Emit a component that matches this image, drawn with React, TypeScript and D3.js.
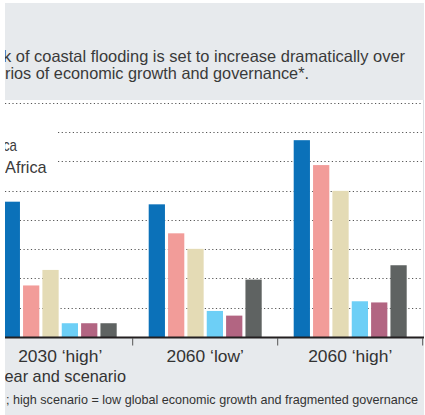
import React from "react";
import * as d3 from "d3";

const categories = ["2030 ‘high’", "2060 ‘low’", "2060 ‘high’"];
const seriesNames = ["Series A", "Series B", "Series C", "Series D", "Series E", "Series F"];
const seriesColors = ["#0b71b9", "#f29c99", "#e4dbb5", "#6dcff6", "#b26582", "#5f6362"];
const values2030High = [46.2, 17.6, 22.9, 4.7, 4.7, 4.7];
const values2060Low = [45.3, 35.4, 30.1, 8.9, 7.3, 19.6];
const values2060High = [67.2, 58.7, 49.9, 12.2, 11.8, 24.5];
const yTicks = [10, 20, 30, 40, 50, 60, 70, 80];
const shortGridTicks = [60, 70];

const titleLine1 = "k of coastal flooding is set to increase dramatically over";
const titleLine2 = "rios of economic growth and governance*.";
const legendLine1 = "ca";
const legendLine2 = "Africa";
const xAxisTitle = "ear and scenario";
const footnote = "; high scenario = low global economic growth and fragmented governance";

const W = 425;
const H = 415;
const FONT = "'Liberation Sans', Arial, sans-serif";

export default function App() {
  const table = [values2030High, values2060Low, values2060High];
  const x = d3.scaleBand<string>().domain(categories).range([-12.3, 422.7]);
  const xi = d3
    .scaleBand<string>()
    .domain(seriesNames)
    .range([16, 129])
    .paddingInner(0.16)
    .paddingOuter(0);
  const y = d3.scaleLinear().domain([0, 80]).range([337, 102.7]);
  const base = y(0);

  return (
    <svg
      width={W}
      height={H}
      style={{ position: "absolute", left: 0, top: 0, background: "#fff" }}
      fontFamily={FONT}
    >
      <rect x={0} y={0} width={W} height={H} fill="#fff" />
      {/* header band */}
      <rect x={5} y={3} width={419} height={97} fill="#e7eaed" />
      {/* footer band */}
      <rect x={5} y={338} width={419} height={77} fill="#e7eaed" />
      {/* right border line */}
      <line x1={423.5} x2={423.5} y1={100} y2={338} stroke="#dde1e5" strokeWidth={1} />

      {/* title */}
      <text x={3} y={62} fontSize={16.5} fill="#3a3a3a" textLength={402} lengthAdjust="spacingAndGlyphs">
        {titleLine1}
      </text>
      <text x={5} y={79} fontSize={16.5} fill="#3a3a3a" textLength={304} lengthAdjust="spacingAndGlyphs">
        {titleLine2}
      </text>

      {/* gridlines */}
      {yTicks.map((t) => (
        <line
          key={t}
          x1={shortGridTicks.includes(t) ? 58 : 5}
          x2={422}
          y1={Math.round(y(t)) + 0.5}
          y2={Math.round(y(t)) + 0.5}
          stroke="#555"
          strokeWidth={1}
          strokeDasharray="1.2 2.5"
        />
      ))}

      {/* legend fragments */}
      <text x={3} y={150.5} fontSize={17} fill="#3a3a3a" textLength={14} lengthAdjust="spacingAndGlyphs">
        {legendLine1}
      </text>
      <text x={5} y={173.3} fontSize={17} fill="#3a3a3a" textLength={41.7} lengthAdjust="spacingAndGlyphs">
        {legendLine2}
      </text>

      {/* bars */}
      {categories.map((c, ci) =>
        seriesNames.map((s, si) => {
          const v = table[ci][si];
          const x0 = (x(c) ?? 0) + (xi(s) ?? 0);
          return (
            <rect
              key={c + s}
              x={x0}
              y={y(v)}
              width={xi.bandwidth()}
              height={base - y(v)}
              fill={seriesColors[si]}
            />
          );
        })
      )}

      {/* axis */}
      <line x1={5} x2={424} y1={337.5} y2={337.5} stroke="#231f20" strokeWidth={2} />
      {categories.map((c) => {
        const bx = (x(c) ?? 0) + x.bandwidth();
        return (
          <line key={"t" + c} x1={bx} x2={bx} y1={338} y2={345.5} stroke="#555" strokeWidth={1} />
        );
      })}
      {categories.map((c) => (
        <text
          key={"l" + c}
          x={(x(c) ?? 0) + x.bandwidth() / 2}
          y={361.7}
          fontSize={17.4}
          fill="#333"
          textAnchor="middle"
        >
          {c}
        </text>
      ))}
      <text x={4.5} y={381.7} fontSize={17} fill="#333" textLength={121.5} lengthAdjust="spacingAndGlyphs">
        {xAxisTitle}
      </text>
      <text x={6} y={404} fontSize={13} fill="#333" textLength={412} lengthAdjust="spacingAndGlyphs">
        {footnote}
      </text>

      {/* left white crop strip */}
      <rect x={0} y={0} width={5} height={H} fill="#fff" />
      <rect x={0} y={0} width={W} height={3} fill="#fff" />
    </svg>
  );
}
